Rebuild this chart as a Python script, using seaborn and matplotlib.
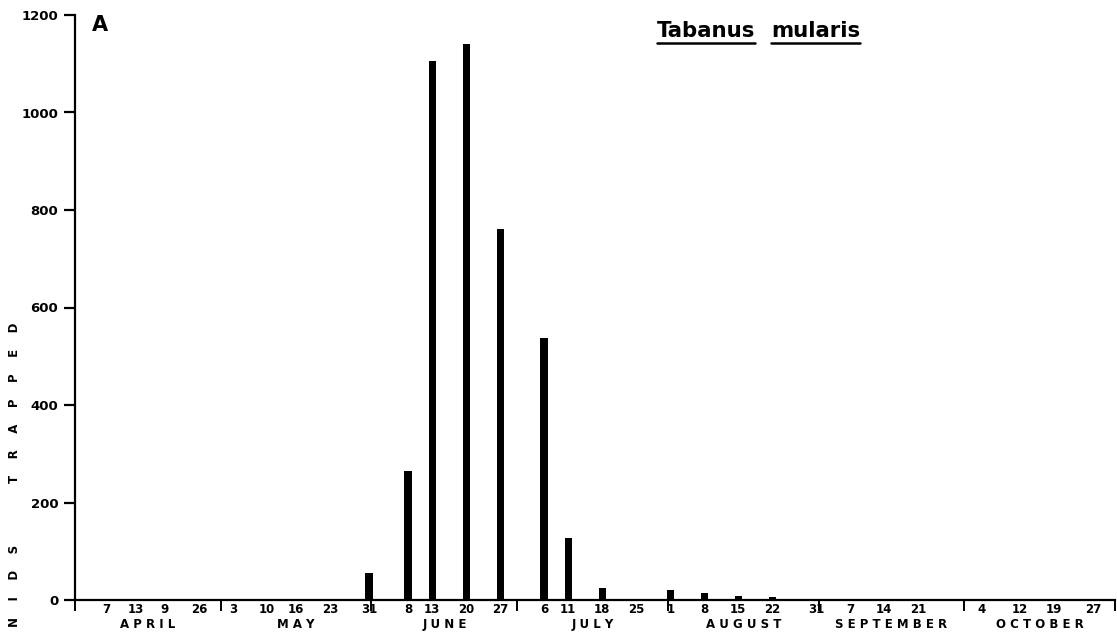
import numpy as np
import pandas as pd
import matplotlib
matplotlib.use("Agg")
import matplotlib.pyplot as plt
import seaborn as sns
from matplotlib.lines import Line2D

# Weekly trap catches of Tabanus mularis over one season
season_year = 1970
trap_dates = ["05-31", "06-08", "06-13", "06-20", "06-27", "07-06", "07-11",
              "07-18", "07-25", "08-01", "08-08", "08-15", "08-22", "08-31", "09-07"]
flies_trapped = [55, 265, 1105, 1140, 760, 537, 128, 25, 3, 20, 15, 8, 6, 3, 2]

# Date ticks printed under the axis, grouped by month
tick_dates = ["04-07", "04-13", "04-19", "04-26",
              "05-03", "05-10", "05-16", "05-23", "05-31",
              "06-08", "06-13", "06-20", "06-27",
              "07-06", "07-11", "07-18", "07-25",
              "08-01", "08-08", "08-15", "08-22", "08-31",
              "09-07", "09-14", "09-21",
              "10-04", "10-12", "10-19", "10-27"]
tick_labels = ["7", "13", "9", "26",
               "3", "10", "16", "23", "31",
               "8", "13", "20", "27",
               "6", "11", "18", "25",
               "1", "8", "15", "22", "31",
               "7", "14", "21",
               "4", "12", "19", "27"]
month_names = ["APRIL", "MAY", "JUNE", "JULY", "AUGUST", "SEPTEMBER", "OCTOBER"]
month_starts = ["04-01", "05-01", "06-01", "07-01", "08-01", "09-01", "10-01", "11-01"]

origin = pd.Timestamp(f"{season_year}-04-01")


def day_of_season(md_list):
    return np.array([(pd.Timestamp(f"{season_year}-{md}") - origin).days for md in md_list],
                    dtype=float)


df = pd.DataFrame({"day": day_of_season(trap_dates) + 0.5, "count": flies_trapped})
tick_pos = day_of_season(tick_dates) + 0.5
bounds = day_of_season(month_starts)

sns.set_style("white")
plt.rcParams["font.family"] = ["DejaVu Sans"]
plt.rcParams["font.weight"] = "bold"
for key in ("text.color", "axes.labelcolor", "xtick.color", "ytick.color", "axes.edgecolor"):
    plt.rcParams[key] = "black"

fig = plt.figure(figsize=(11.17, 6.36), dpi=100)
ax = fig.add_axes([75 / 1117, 36 / 636, 1040 / 1117, 585 / 636])

sns.barplot(data=df, x="day", y="count", native_scale=True, color="black",
            saturation=1, width=0.3, errorbar=None, linewidth=0, ax=ax)

ax.set_xlim(bounds[0], bounds[-1])
ax.set_ylim(0, 1200)
ax.set_xlabel("")
ax.set_ylabel("")

for side in ("top", "right"):
    ax.spines[side].set_visible(False)
for side in ("left", "bottom"):
    ax.spines[side].set_linewidth(1.6)
    ax.spines[side].set_color("black")

ax.set_yticks(np.arange(0, 1201, 200))
ax.set_yticklabels([str(v) for v in range(0, 1201, 200)], fontsize=9.5, fontweight="bold")
ax.tick_params(axis="y", direction="out", length=8, width=1.6, pad=4, left=True)

ax.set_xticks(tick_pos)
ax.set_xticklabels(tick_labels, fontsize=8.5, fontweight="bold")
ax.tick_params(axis="x", which="major", length=0, pad=2)
ax.set_xticks(bounds, minor=True)
ax.tick_params(axis="x", which="minor", direction="out", length=8, width=1.4, bottom=True)

trans = ax.get_xaxis_transform()
for i, name in enumerate(month_names):
    mid = (bounds[i] + bounds[i + 1]) / 2
    ax.text(mid, -0.031, " ".join(name), transform=trans, ha="center", va="top",
            fontsize=8.5, fontweight="bold")

# Panel letter and species name
fig.text(92 / 1117, 1 - 25 / 636, "A", fontsize=15, fontweight="bold", va="center")
t1 = fig.text(657 / 1117, 1 - 31 / 636, "Tabanus", fontsize=15.3, fontweight="bold",
              va="center")
t2 = fig.text(771 / 1117, 1 - 31 / 636, "mularis", fontsize=15.3, fontweight="bold",
              va="center")
fig.canvas.draw()
renderer = fig.canvas.get_renderer()
for t in (t1, t2):
    bb = t.get_window_extent(renderer)
    x0, x1 = bb.x0 / 1117, bb.x1 / 1117
    yline = 1 - 43 / 636
    fig.add_artist(Line2D([x0, x1], [yline, yline], color="black", lw=1.8,
                          transform=fig.transFigure))

# Vertical axis title
fig.text(15 / 1117, 1 - 475 / 636,
         "N    I    D    S" + " " * 15 + "T    R    A    P    P    E    D",
         rotation=90, fontsize=8.5, fontweight="bold", ha="center", va="center")

fig.savefig("out.png", dpi=100)
